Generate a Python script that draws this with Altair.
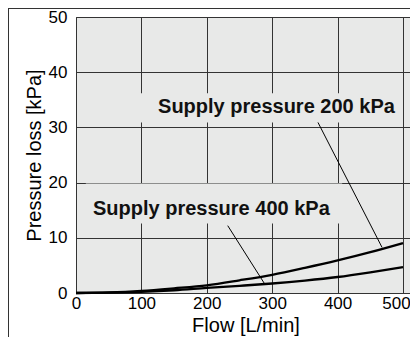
import altair as alt
import pandas as pd

# Data
flow = [0, 50, 100, 150, 200, 250, 300, 350, 400, 450, 500]
loss_200 = [0, 0.1, 0.38, 0.85, 1.4, 2.3, 3.3, 4.55, 5.9, 7.4, 9.05]
loss_400 = [0, 0.06, 0.22, 0.5, 0.92, 1.3, 1.72, 2.25, 2.9, 3.75, 4.7]

label_text = ["Supply pressure 200 kPa", "Supply pressure 400 kPa"]
label_x = [306.5, 207]
label_y = [32.6, 14.05]
box_x = [85, 15]
box_x2 = [494, 407]
box_y = [36.2, 19.85]
box_y2 = [30.9, 12.6]
lead_x = [370, 232]
lead_y = [30.9, 12.2]
lead_x2 = [468, 289]
lead_y2 = [8.25, 1.55]

W, H = 334, 276
XMAX = 510.7
FONT = "Liberation Sans"
BG = "#e8e9e8"
GRID = "#333333"

curves = pd.DataFrame(
    {"flow": flow * 2,
     "loss": loss_200 + loss_400,
     "series": ["200"] * len(flow) + ["400"] * len(flow)}
)
labels = pd.DataFrame({
    "text": label_text, "x": label_x, "y": label_y,
    "bx": box_x, "bx2": box_x2, "by": box_y, "by2": box_y2,
    "lx": lead_x, "ly": lead_y, "lx2": lead_x2, "ly2": lead_y2,
})

xs = alt.Scale(domain=[0, XMAX], nice=False, zero=False)
ys = alt.Scale(domain=[0, 50], nice=False)

xaxis = alt.Axis(values=[0, 100, 200, 300, 400, 500], title="Flow [L/min]",
                 grid=True, gridColor=GRID, gridOpacity=1, gridWidth=1,
                 domain=False, ticks=False, labelPadding=2,
                 labelOffset=alt.ExprRef(expr="datum.value == 500 ? -7 : 0"),
                 labelFontSize=17, labelFont=FONT, labelColor="#000",
                 titleFontSize=20, titleFont=FONT, titleFontWeight="normal",
                 titleColor="#000", titleBaseline="alphabetic", titleY=38.5,
                 titleX=169.5, labelFlush=False)
yaxis = alt.Axis(values=[0, 10, 20, 30, 40, 50], title="Pressure loss [kPa]",
                 grid=True, gridColor=GRID, gridOpacity=1, gridWidth=1,
                 domain=False, ticks=False, labelPadding=9,
                 labelFontSize=17, labelFont=FONT, labelColor="#000",
                 titleFontSize=20, titleFont=FONT, titleFontWeight="normal",
                 titleColor="#000", titlePadding=4, labelFlush=False)

lines = alt.Chart(curves).mark_line(color="black", strokeWidth=2.3, interpolate="monotone").encode(
    x=alt.X("flow:Q", scale=xs, axis=xaxis),
    y=alt.Y("loss:Q", scale=ys, axis=yaxis),
    detail="series:N",
)

base = alt.Chart(labels)
boxes = base.mark_rect(color=BG).encode(
    x=alt.X("bx:Q", scale=xs), x2="bx2", y=alt.Y("by:Q", scale=ys), y2="by2")
leaders = base.mark_rule(color="black", strokeWidth=1).encode(
    x=alt.X("lx:Q", scale=xs), x2="lx2", y=alt.Y("ly:Q", scale=ys), y2="ly2")
texts = base.mark_text(font=FONT, fontSize=20, fontWeight="bold", color="#111",
                       align="center", baseline="alphabetic").encode(
    x=alt.X("x:Q", scale=xs), y=alt.Y("y:Q", scale=ys), text="text:N")

frame_v = alt.Chart(labels).mark_rule(color=GRID, strokeWidth=1).encode(
    x=alt.value(-67.5), y=alt.value(-9), y2=alt.value(330))
frame_h = alt.Chart(labels).mark_rule(color=GRID, strokeWidth=1).encode(
    x=alt.value(-68), x2=alt.value(W), y=alt.value(-8.5))

chart = alt.layer(boxes, lines, leaders, texts, frame_v, frame_h).properties(
    width=W, height=H,
    padding={"left": 68, "top": 9, "right": 0, "bottom": 44},
    autosize=alt.AutoSizeParams(type="none"),
    background="white",
).configure_view(fill=BG, stroke=GRID, strokeWidth=1)

chart.save("out.html", embed_options={"renderer": "svg", "actions": False})
